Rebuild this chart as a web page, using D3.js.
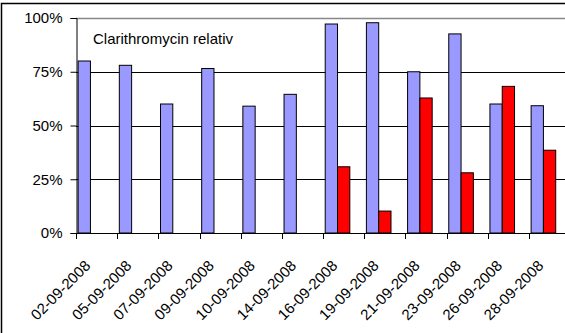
<!DOCTYPE html>
<html>
<head>
<meta charset="utf-8">
<script src="https://cdn.jsdelivr.net/npm/d3@7"></script>
<style>
  html, body { margin: 0; padding: 0; background: #fff; }
  svg { display: block; }
  text { font-family: "Liberation Sans", Arial, sans-serif; fill: #000; }
</style>
</head>
<body>
<svg id="chart" width="565" height="333"></svg>
<script>
const categories = ["02-09-2008","05-09-2008","07-09-2008","09-09-2008","10-09-2008","14-09-2008",
                    "16-09-2008","19-09-2008","21-09-2008","23-09-2008","26-09-2008","28-09-2008"];
const seriesKeys = ["s1", "s2", "s3"];
const series1 = [80, 78, 60, 76.5, 59, 64.5, 97.2, 97.8, 75, 92.6, 60, 59.2];
const series2 = [null, null, null, null, null, null, 30.8, 10.2, 62.8, 28, 68.2, 38.5];
const series3 = [null, null, null, null, null, null, null, null, null, null, null, null];
const yTicks = [0, 25, 50, 75, 100];
const seriesColors = ["#9999FF", "#FF0000", "#993366"];
const chartTitle = "Clarithromycin relativ";

const svg = d3.select("#chart");
const plot = { left: 76, top: 18, width: 12 * 41.18, height: 215 };

// outer frame
svg.append("rect")
  .attr("x", 1.5).attr("y", 3.5)
  .attr("width", 600).attr("height", 400)
  .attr("fill", "none").attr("stroke", "#000").attr("stroke-width", 1.5);

const x = d3.scaleBand().domain(categories).range([plot.left, plot.left + plot.width]).padding(0);
const xs = d3.scaleBand().domain(seriesKeys).range([0, x.bandwidth()]).paddingInner(0).paddingOuter(0.174);
const y = d3.scaleLinear().domain([0, 100]).range([plot.top + plot.height, plot.top]);

// gridlines
const g = svg.append("g");
g.selectAll("line.grid").data(yTicks.filter(d => d > 0)).enter().append("line")
  .attr("x1", plot.left).attr("x2", plot.left + plot.width)
  .attr("y1", d => Math.round(y(d)) + 0.5).attr("y2", d => Math.round(y(d)) + 0.5)
  .attr("stroke", d => d === 100 ? "#888" : "#000").attr("stroke-width", d => d === 100 ? 1.5 : 1);

// bars
const allSeries = [series1, series2, series3];
allSeries.forEach((vals, si) => {
  svg.append("g").selectAll("rect").data(vals.map((v, i) => ({ v, c: categories[i] })).filter(d => d.v != null))
    .enter().append("rect")
    .attr("x", d => x(d.c) + xs(seriesKeys[si]))
    .attr("width", xs.bandwidth())
    .attr("y", d => y(d.v))
    .attr("height", d => y(0) - y(d.v))
    .attr("fill", seriesColors[si])
    .attr("stroke", "#000").attr("stroke-width", 1);
});

// y axis
const yAxis = d3.axisLeft(y).tickValues(yTicks).tickFormat(d => d + "%").tickSize(6).tickPadding(8);
const ya = svg.append("g").attr("transform", `translate(${plot.left + 0.5},0)`).call(yAxis);
ya.select(".domain").attr("stroke", "#000");
ya.selectAll("line").attr("stroke", "#000");
ya.selectAll("text").style("font-size", "15px").attr("font-family", "Liberation Sans, Arial, sans-serif");

// x axis (ticks at category boundaries)
const boundaries = categories.map(c => x(c)).concat([plot.left + plot.width]);
const xa = svg.append("g");
xa.append("line").attr("x1", plot.left).attr("x2", plot.left + plot.width)
  .attr("y1", y(0) + 0.5).attr("y2", y(0) + 0.5).attr("stroke", "#000");
xa.selectAll("line.tick").data(boundaries).enter().append("line")
  .attr("x1", d => Math.round(d) + 0.5).attr("x2", d => Math.round(d) + 0.5)
  .attr("y1", y(0)).attr("y2", y(0) + 6).attr("stroke", "#000");
xa.selectAll("text").data(categories).enter().append("text")
  .attr("transform", d => `translate(${x(d) + x.bandwidth() / 2 - 9},${y(0) + 30}) rotate(-45)`)
  .attr("text-anchor", "end")
  .attr("dy", "0.35em")
  .style("font-size", "15px")
  .text(d => d);

// in-plot label
svg.append("text").attr("x", 93).attr("y", 44).style("font-size", "15px").text(chartTitle);
</script>
</body>
</html>
